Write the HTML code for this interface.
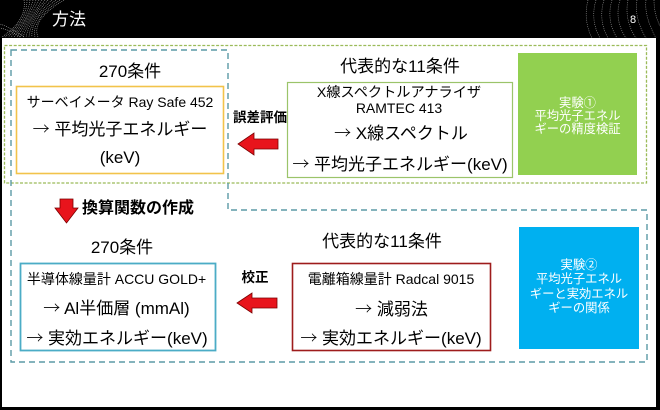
<!DOCTYPE html>
<html>
<head>
<meta charset="utf-8">
<style>
  html,body{margin:0;padding:0;}
  body{width:660px;height:410px;background:#000;position:relative;overflow:hidden;
       font-family:"Liberation Sans","Noto Sans CJK JP",sans-serif;color:#000;}
  .t{position:absolute;white-space:nowrap;text-align:center;}
  .a{font-family:"Noto Sans CJK JP",sans-serif;font-weight:300;}
  svg{position:absolute;left:0;top:0;}
</style>
</head>
<body>
<svg width="660" height="410" viewBox="0 0 660 410">
  <g stroke="#cfcfcf" stroke-width="0.6" fill="none" stroke-dasharray="1 1" opacity="0.85">
    <path d="M24 0 Q27 20 2 37"/>
    <path d="M27 0 Q27 20 5 37"/>
    <path d="M30 0 Q27.5 20 8 37"/>
    <path d="M33 0 Q28 20 11 37"/>
    <path d="M36 0 Q28 20 14 37"/>
    <path d="M39 0 Q28.5 20 17 37"/>
    <path d="M42 0 Q29 20 20 37"/>
    <path d="M45 0 Q29 20 23 37"/>
    <path d="M48 0 Q29.5 20 26 37"/>
    <path d="M52 0 Q30 20 29 37"/>
    <path d="M56 0 Q30 20 32 37"/>
    <path d="M60 0 Q31 20 35 37"/>
    <path d="M64 0 Q31 20 38 37"/>
    <path d="M20 37 Q10 30 0 28"/>
    <path d="M24 37 Q12 28 0 24"/>
  </g>
  <g stroke="#cfcfcf" stroke-width="0.6" fill="none" stroke-dasharray="1 1.2" opacity="0.8">
    <path d="M588 0 Q583 20 592 38"/>
    <path d="M596 0 Q590 20 600 38"/>
    <path d="M604 0 Q598 20 608 38"/>
    <path d="M612 0 Q606 20 617 38"/>
    <path d="M620 0 Q614 20 626 38"/>
    <path d="M628 0 Q624 20 636 38"/>
    <path d="M637 0 Q634 18 646 38"/>
    <path d="M646 0 Q644 16 656 38"/>
    <path d="M654 0 Q654 14 660 26"/>
  </g>

  <rect x="2" y="38" width="654" height="369" fill="#fff"/>

  <rect x="4.5" y="45.5" width="642" height="137.5" fill="none" stroke="#9bbb59" stroke-width="1.3" stroke-dasharray="3 1.6"/>

  <path d="M11 50 H228 V210 H647 V362 H11 Z" fill="none" stroke="#5b9aa6" stroke-width="1.4" stroke-dasharray="6 4"/>

  <rect x="16.5" y="86.5" width="207" height="87" fill="#fff" stroke="#f2c34a" stroke-width="1.6"/>
  <rect x="287.5" y="82.5" width="225" height="95" fill="#fff" stroke="#9bc46a" stroke-width="1.2"/>
  <rect x="518" y="53" width="119" height="122" fill="#92d050"/>

  <rect x="20.5" y="263.5" width="195" height="87" fill="#fff" stroke="#4bacc6" stroke-width="1.8"/>
  <rect x="292.5" y="263.5" width="198" height="87" fill="#fff" stroke="#9e1c1c" stroke-width="1.6"/>
  <rect x="519" y="227" width="120" height="122" fill="#00b0f0"/>

  <path d="M238 144 L254 133 L254 139 L278 139 L278 149 L254 149 L254 155 Z" fill="#e8141c" stroke="#7a0000" stroke-width="0.8"/>
  <path d="M237 303 L252 293 L252 298 L277 298 L277 308 L252 308 L252 313 Z" fill="#e8141c" stroke="#7a0000" stroke-width="0.8"/>
  <path d="M60 199 H73 V208 H78 L66.5 223 L55 208 H60 Z" fill="#e8141c" stroke="#7a0000" stroke-width="0.8"/>
</svg>

<div class="t" style="left:52px;top:9px;line-height:22px;font-size:17px;color:#fff;">方法</div>
<div class="t" style="left:630px;top:13px;line-height:14px;font-size:11px;color:#fff;">8</div>

<div class="t" style="left:70px;width:120px;top:61px;line-height:22px;font-size:17px;">270条件</div>
<div class="t" style="left:16px;width:208px;top:93px;line-height:18px;font-size:14px;">サーベイメータ Ray Safe 452</div>
<div class="t" style="left:16px;width:208px;top:117px;line-height:22px;font-size:17px;"><span class="a">→</span> 平均光子エネルギー</div>
<div class="t" style="left:16px;width:208px;top:147px;line-height:22px;font-size:17px;">(keV)</div>

<div class="t" style="left:230px;width:60px;top:109px;line-height:18px;font-size:13.5px;font-weight:bold;">誤差評価</div>

<div class="t" style="left:330px;width:140px;top:56px;line-height:22px;font-size:17px;">代表的な11条件</div>
<div class="t" style="left:300px;width:198px;top:84px;line-height:18px;font-size:14.2px;">X線スペクトルアナライザ</div>
<div class="t" style="left:300px;width:198px;top:99px;line-height:18px;font-size:14px;">RAMTEC 413</div>
<div class="t" style="left:300px;width:202px;top:121px;line-height:22px;font-size:17px;"><span class="a">→</span> X線スペクトル</div>
<div class="t" style="left:287px;width:226px;top:152px;line-height:22px;font-size:17px;"><span class="a">→</span> 平均光子エネルギー(keV)</div>

<div class="t" style="left:518px;width:119px;top:97px;line-height:12.8px;font-size:12.3px;color:#fff;">実験①<br>平均光子エネル<br>ギーの精度検証</div>

<div class="t" style="left:82px;top:199px;line-height:20px;font-size:16px;font-weight:bold;text-align:left;">換算関数の作成</div>

<div class="t" style="left:62px;width:120px;top:237px;line-height:22px;font-size:17px;">270条件</div>
<div class="t" style="left:18px;width:197px;top:270px;line-height:18px;font-size:14px;">半導体線量計 ACCU GOLD+</div>
<div class="t" style="left:18px;width:197px;top:296px;line-height:22px;font-size:17px;"><span class="a">→</span> Al半価層 (mmAl)</div>
<div class="t" style="left:18px;width:198px;top:326px;line-height:22px;font-size:17px;"><span class="a">→</span> 実効エネルギー(keV)</div>

<div class="t" style="left:235px;width:40px;top:269px;line-height:18px;font-size:13.5px;font-weight:bold;">校正</div>

<div class="t" style="left:312px;width:140px;top:231px;line-height:22px;font-size:17px;">代表的な11条件</div>
<div class="t" style="left:292px;width:198px;top:270px;line-height:18px;font-size:14px;">電離箱線量計 Radcal 9015</div>
<div class="t" style="left:292px;width:199px;top:297px;line-height:22px;font-size:17px;"><span class="a">→</span> 減弱法</div>
<div class="t" style="left:292px;width:198px;top:326px;line-height:22px;font-size:17px;"><span class="a">→</span> 実効エネルギー(keV)</div>

<div class="t" style="left:519px;width:120px;top:258px;line-height:14.3px;font-size:12.3px;color:#fff;">実験②<br>平均光子エネル<br>ギーと実効エネル<br>ギーの関係</div>
</body>
</html>
